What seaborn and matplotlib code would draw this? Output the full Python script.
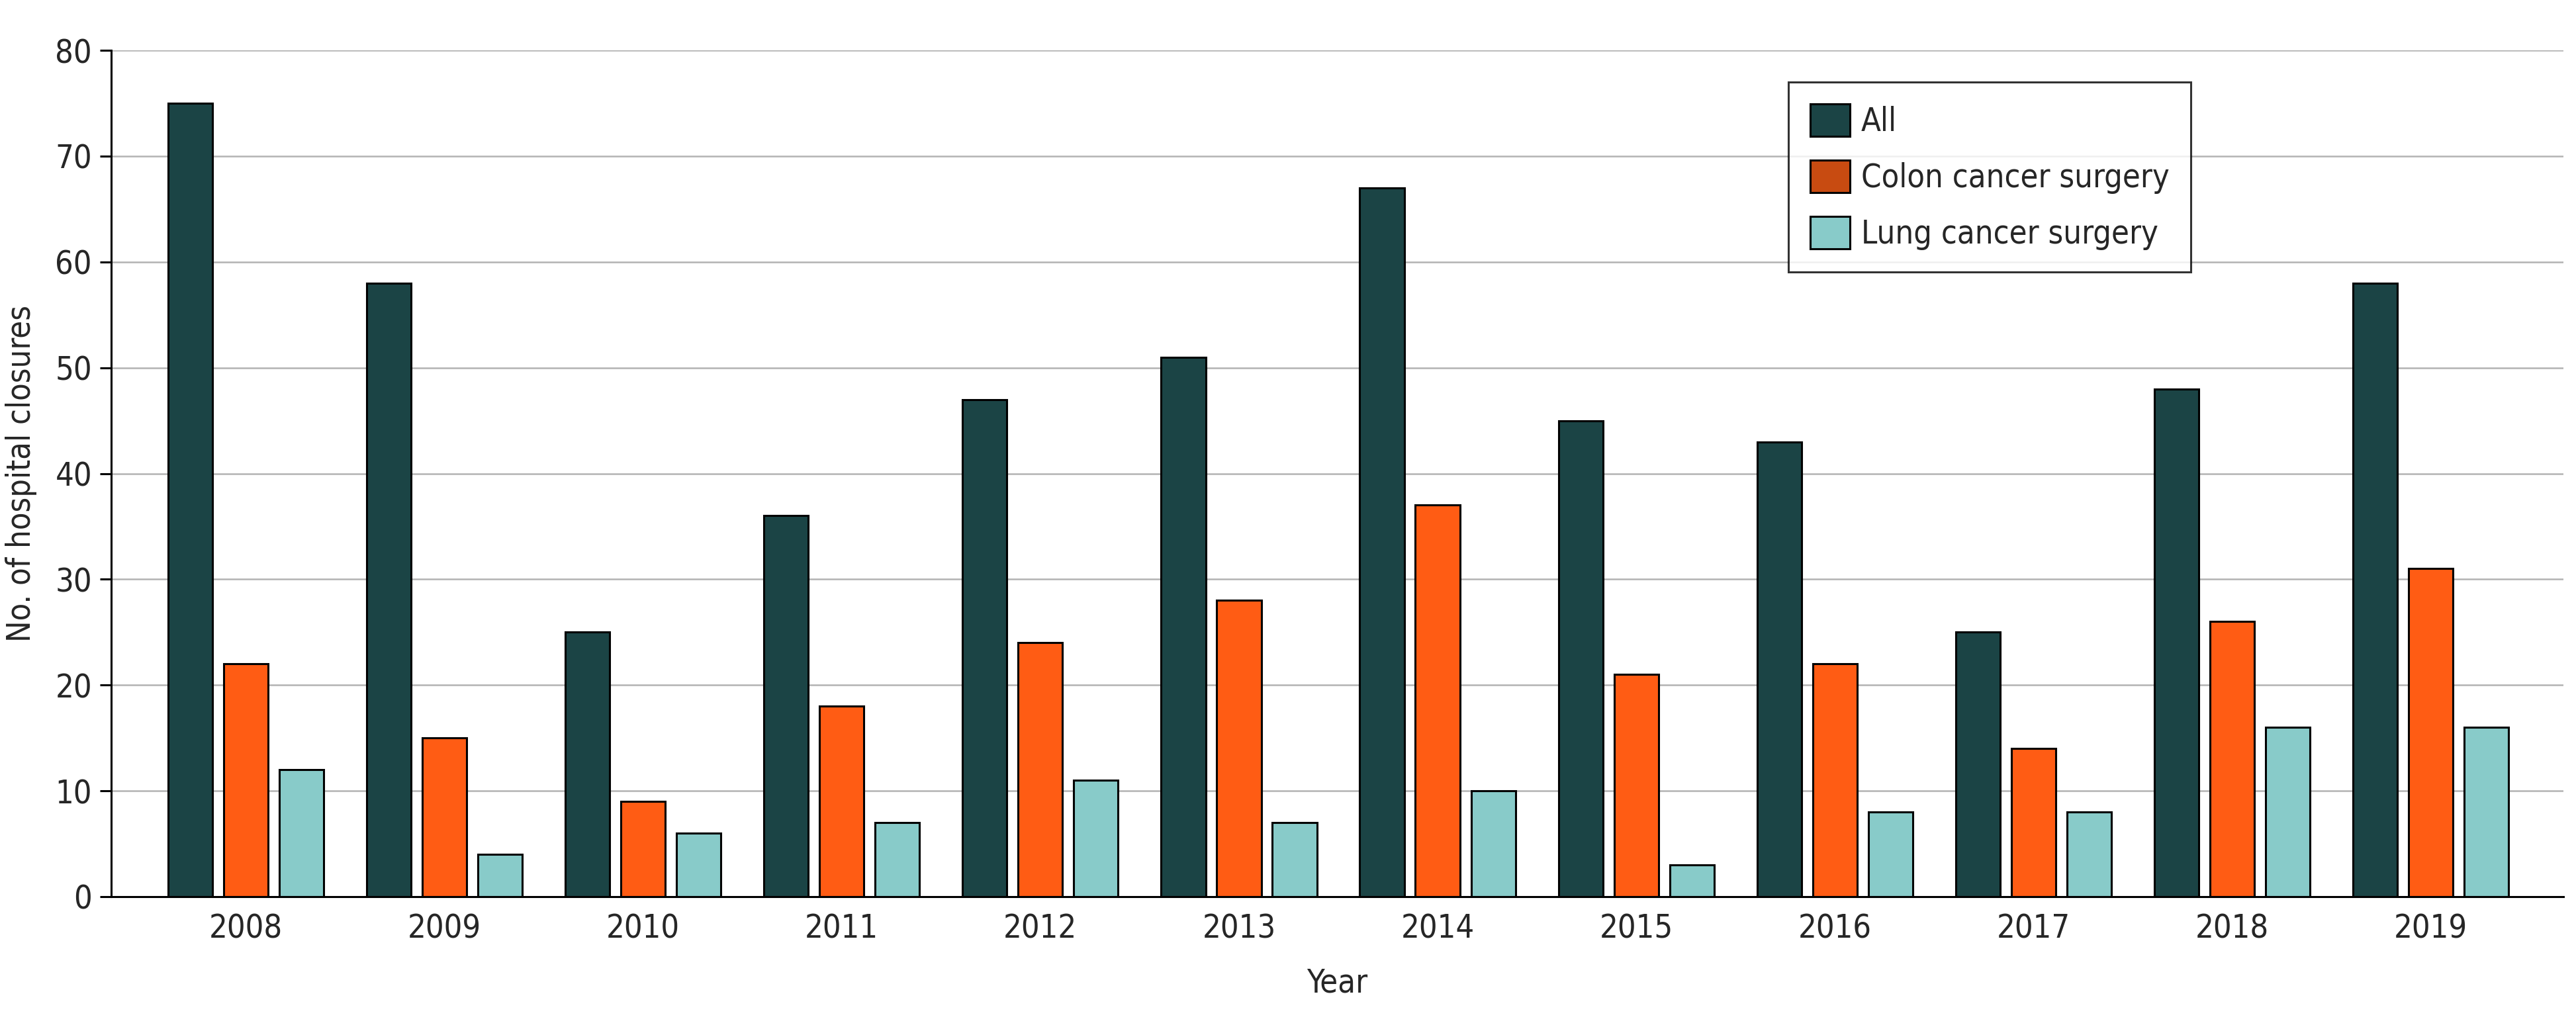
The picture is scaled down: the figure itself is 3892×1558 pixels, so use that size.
import pandas as pd
import matplotlib
matplotlib.use("Agg")
import matplotlib.pyplot as plt
import seaborn as sns
from matplotlib.patches import Patch

years = ["2008", "2009", "2010", "2011", "2012", "2013",
         "2014", "2015", "2016", "2017", "2018", "2019"]
all_closures = [75, 58, 25, 36, 47, 51, 67, 45, 43, 25, 48, 58]
colon_closures = [22, 15, 9, 18, 24, 28, 37, 21, 22, 14, 26, 31]
lung_closures = [12, 4, 6, 7, 11, 7, 10, 3, 8, 8, 16, 16]
groups = ["All", "Colon cancer surgery", "Lung cancer surgery"]

bar_colors = ["#1B4445", "#FF5C14", "#88CBC9"]
legend_colors = ["#1B4445", "#C84B11", "#88CBC9"]

df = pd.DataFrame({
    "Year": years * 3,
    "Closures": all_closures + colon_closures + lung_closures,
    "Group": [groups[0]] * 12 + [groups[1]] * 12 + [groups[2]] * 12,
})

sns.set_style("white")
plt.rcParams["font.family"] = ["DejaVu Sans"]
plt.rcParams["font.stretch"] = "condensed"
fs = 17.5

fig = plt.figure(figsize=(19.46, 7.79), dpi=200)
ax = fig.add_axes([0.0432, 0.1303, 0.9519, 0.8209])

sns.barplot(data=df, x="Year", y="Closures", hue="Group", order=years,
            hue_order=groups, palette=bar_colors, width=0.84, gap=0.2,
            edgecolor="black", linewidth=1.1, saturation=1, legend=False, ax=ax)

ax.set_xlim(-0.677, 11.667)
ax.set_ylim(0, 80)
ax.set_yticks(range(0, 81, 10))
ax.set_axisbelow(True)
ax.yaxis.grid(True, color="#b3b3b3", linewidth=0.9)
ax.xaxis.grid(False)

for side in ["top", "right"]:
    ax.spines[side].set_visible(False)
for side in ["left", "bottom"]:
    ax.spines[side].set_color("black")
    ax.spines[side].set_linewidth(1.1)

ax.tick_params(axis="y", length=6, width=1.1, color="black", pad=4.5, labelsize=fs, left=True)
ax.tick_params(axis="x", length=0, pad=9, labelsize=fs)

ax.set_xlabel("Year", fontsize=fs, labelpad=12)
ax.set_ylabel("No. of hospital closures", fontsize=fs, labelpad=10)

handles = [Patch(facecolor=c, edgecolor="black", linewidth=1.1) for c in legend_colors]
leg = ax.legend(handles, groups, loc="upper left", bbox_to_anchor=(0.684, 0.9625),
                borderaxespad=0, fontsize=fs, frameon=True, fancybox=False,
                handlelength=1.22, handleheight=1.18, handletextpad=0.35,
                labelspacing=0.7, borderpad=0.68)
leg.get_frame().set_edgecolor("black")
leg.get_frame().set_linewidth(1.1)

fig.savefig("out.png", dpi=200)
